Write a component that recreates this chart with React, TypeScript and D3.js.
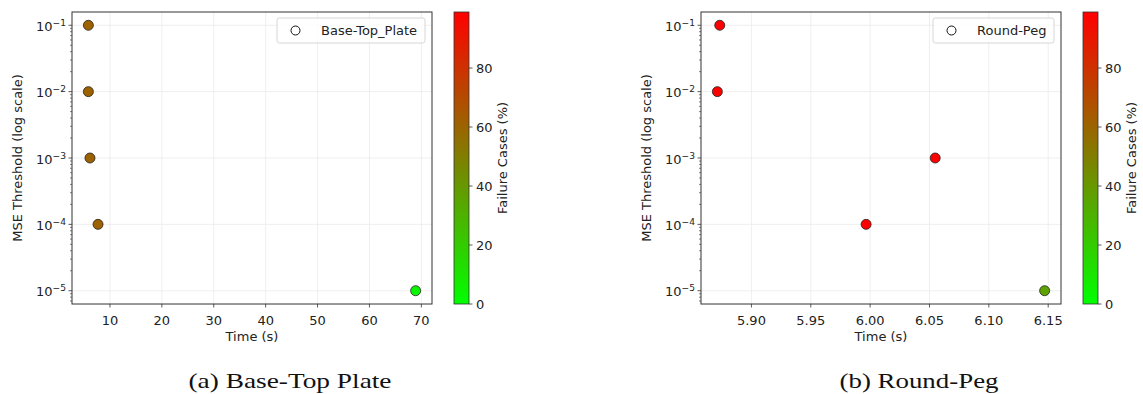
import React from "react";
import * as d3 from "d3";

// ---------- data ----------
const thresholds = [1e-1, 1e-2, 1e-3, 1e-4, 1e-5];

const baseTopTimes = [5.84, 5.84, 6.15, 7.7, 68.9];
const baseTopFailures = [61, 61, 61, 61, 4];

const roundPegTimes = [5.8733, 5.8713, 6.0548, 5.9966, 6.147];
const roundPegFailures = [99, 99, 99, 99, 36];

const baseTopXTicks = [10, 20, 30, 40, 50, 60, 70];
const roundPegXTicks = [5.9, 5.95, 6.0, 6.05, 6.1, 6.15];
const colorbarTicks = [0, 20, 40, 60, 80];
const yDecades = [-1, -2, -3, -4, -5];

const FONT = "DejaVu Sans, sans-serif";
const FS = 13;

type PanelProps = {
  id: string;
  x0: number;
  times: number[];
  failures: number[];
  xTicks: number[];
  xFormat: (v: number) => string;
  legendLabel: string;
  legendWidth: number;
  caption: string;
  captionWidth: number;
};

const AX_W = 360;
const Y0 = 12;
const Y1 = 304;

function Panel(p: PanelProps) {
  const x0 = p.x0;
  const x1 = x0 + AX_W;
  const xmin = d3.min(p.times)!;
  const xmax = d3.max(p.times)!;
  const m = (xmax - xmin) * 0.05;
  const x = d3.scaleLinear().domain([xmin - m, xmax + m]).range([x0, x1]);

  const lmin = Math.log10(d3.min(thresholds)!);
  const lmax = Math.log10(d3.max(thresholds)!);
  const lm = (lmax - lmin) * 0.05;
  const y = d3
    .scaleLog()
    .domain([Math.pow(10, lmin - lm), Math.pow(10, lmax + lm)])
    .range([Y1, Y0]);

  const color = d3
    .scaleLinear<string>()
    .domain([0, 99])
    .range(["#00ff00", "#ff0000"])
    .interpolate(d3.interpolateRgb)
    .clamp(true);

  const [dlo, dhi] = y.domain();
  const minor: number[] = [];
  for (let e = -6; e <= 0; e++) {
    for (let k = 2; k <= 9; k++) {
      const v = k * Math.pow(10, e);
      if (v >= dlo && v <= dhi) minor.push(v);
    }
  }

  const cbX0 = x1 + 22;
  const cbX1 = cbX0 + 15;
  const cb = d3.scaleLinear().domain([0, 99]).range([Y1, Y0]);
  const gid = `grad-${p.id}`;

  const legX1 = x1 - 7;
  const legX0 = legX1 - p.legendWidth;
  const legY0 = 18;
  const legY1 = 43;

  const cx = (x0 + x1) / 2;

  return (
    <g>
      <defs>
        <linearGradient id={gid} x1="0" y1="1" x2="0" y2="0">
          <stop offset="0%" stopColor={color(0)} />
          <stop offset="100%" stopColor={color(99)} />
        </linearGradient>
      </defs>
      {/* grid */}
      {p.xTicks.map((t) => (
        <line key={"gx" + t} x1={x(t)} x2={x(t)} y1={Y0} y2={Y1} stroke="#ebebeb" strokeWidth={0.8} />
      ))}
      {yDecades.map((d) => (
        <line key={"gy" + d} x1={x0} x2={x1} y1={y(Math.pow(10, d))} y2={y(Math.pow(10, d))} stroke="#ebebeb" strokeWidth={0.8} />
      ))}
      {/* points */}
      {thresholds.map((t, i) => (
        <circle
          key={"pt" + i}
          cx={x(p.times[i])}
          cy={y(t)}
          r={5}
          fill={color(p.failures[i])}
          stroke="#222"
          strokeWidth={0.8}
        />
      ))}
      {/* frame */}
      <rect x={x0} y={Y0} width={AX_W} height={Y1 - Y0} fill="none" stroke="#333" strokeWidth={1} />
      {/* x ticks */}
      {p.xTicks.map((t) => (
        <g key={"xt" + t}>
          <line x1={x(t)} x2={x(t)} y1={Y1} y2={Y1 + 3.5} stroke="#333" strokeWidth={0.8} />
          <text x={x(t)} y={Y1 + 20.5} textAnchor="middle" fontFamily={FONT} fontSize={FS} fill="#222">
            {p.xFormat(t)}
          </text>
        </g>
      ))}
      {/* y ticks */}
      {minor.map((v, i) => (
        <line key={"mn" + i} x1={x0} x2={x0 - 2} y1={y(v)} y2={y(v)} stroke="#333" strokeWidth={0.6} />
      ))}
      {yDecades.map((d) => (
        <g key={"yt" + d}>
          <line x1={x0} x2={x0 - 3.5} y1={y(Math.pow(10, d))} y2={y(Math.pow(10, d))} stroke="#333" strokeWidth={0.8} />
          <text x={x0 - 6} y={y(Math.pow(10, d)) + 5.5} textAnchor="end" fontFamily={FONT} fontSize={FS} fill="#222">
            <tspan>10</tspan>
            <tspan dy={-5} fontSize={9.1}>{"\u2212" + Math.abs(d)}</tspan>
          </text>
        </g>
      ))}
      {/* axis labels */}
      <text x={cx} y={341} textAnchor="middle" fontFamily={FONT} fontSize={FS} fill="#222">
        Time (s)
      </text>
      <text
        transform={`translate(${x0 - 50},${(Y0 + Y1) / 2}) rotate(-90)`}
        textAnchor="middle"
        fontFamily={FONT}
        fontSize={FS}
        fill="#222"
      >
        MSE Threshold (log scale)
      </text>
      {/* legend */}
      <rect x={legX0} y={legY0} width={p.legendWidth} height={legY1 - legY0} rx={2.5} fill="#fff" fillOpacity={0.8} stroke="#cccccc" strokeWidth={0.8} />
      <circle cx={legX0 + 18.5} cy={(legY0 + legY1) / 2} r={4.5} fill="none" stroke="#111" strokeWidth={1} />
      <text x={legX0 + 44} y={(legY0 + legY1) / 2 + 4.7} fontFamily={FONT} fontSize={FS} fill="#222">
        {p.legendLabel}
      </text>
      {/* colorbar */}
      <rect x={cbX0} y={Y0} width={cbX1 - cbX0} height={Y1 - Y0} fill={`url(#${gid})`} stroke="#333" strokeWidth={0.8} />
      {colorbarTicks.map((t) => (
        <g key={"cb" + t}>
          <line x1={cbX1} x2={cbX1 + 3.5} y1={cb(t)} y2={cb(t)} stroke="#333" strokeWidth={0.8} />
          <text x={cbX1 + 7} y={cb(t) + 5} fontFamily={FONT} fontSize={FS} fill="#222">
            {t}
          </text>
        </g>
      ))}
      <text
        transform={`translate(${cbX0 + 53},${(Y0 + Y1) / 2}) rotate(-90)`}
        textAnchor="middle"
        fontFamily={FONT}
        fontSize={FS}
        fill="#222"
      >
        Failure Cases (%)
      </text>
      {/* caption */}
      <text
        x={cx + 38 - p.captionWidth / 2}
        y={388}
        fontFamily="Liberation Serif, serif"
        fontSize={22}
        fill="#111"
        textLength={p.captionWidth}
        lengthAdjust="spacingAndGlyphs"
      >
        {p.caption}
      </text>
    </g>
  );
}

export default function App() {
  return (
    <svg
      width={1143}
      height={394}
      style={{ position: "absolute", left: 0, top: 0, background: "#fff" }}
    >
      <rect x={0} y={0} width={1143} height={394} fill="#fff" />
      <Panel
        id="a"
        x0={72}
        times={baseTopTimes}
        failures={baseTopFailures}
        xTicks={baseTopXTicks}
        xFormat={(v) => String(v)}
        legendLabel="Base-Top_Plate"
        legendWidth={148}
        caption="(a) Base-Top Plate"
        captionWidth={203}
      />
      <Panel
        id="b"
        x0={701}
        times={roundPegTimes}
        failures={roundPegFailures}
        xTicks={roundPegXTicks}
        xFormat={(v) => v.toFixed(2)}
        legendLabel="Round-Peg"
        legendWidth={121}
        caption="(b) Round-Peg"
        captionWidth={159}
      />
    </svg>
  );
}
